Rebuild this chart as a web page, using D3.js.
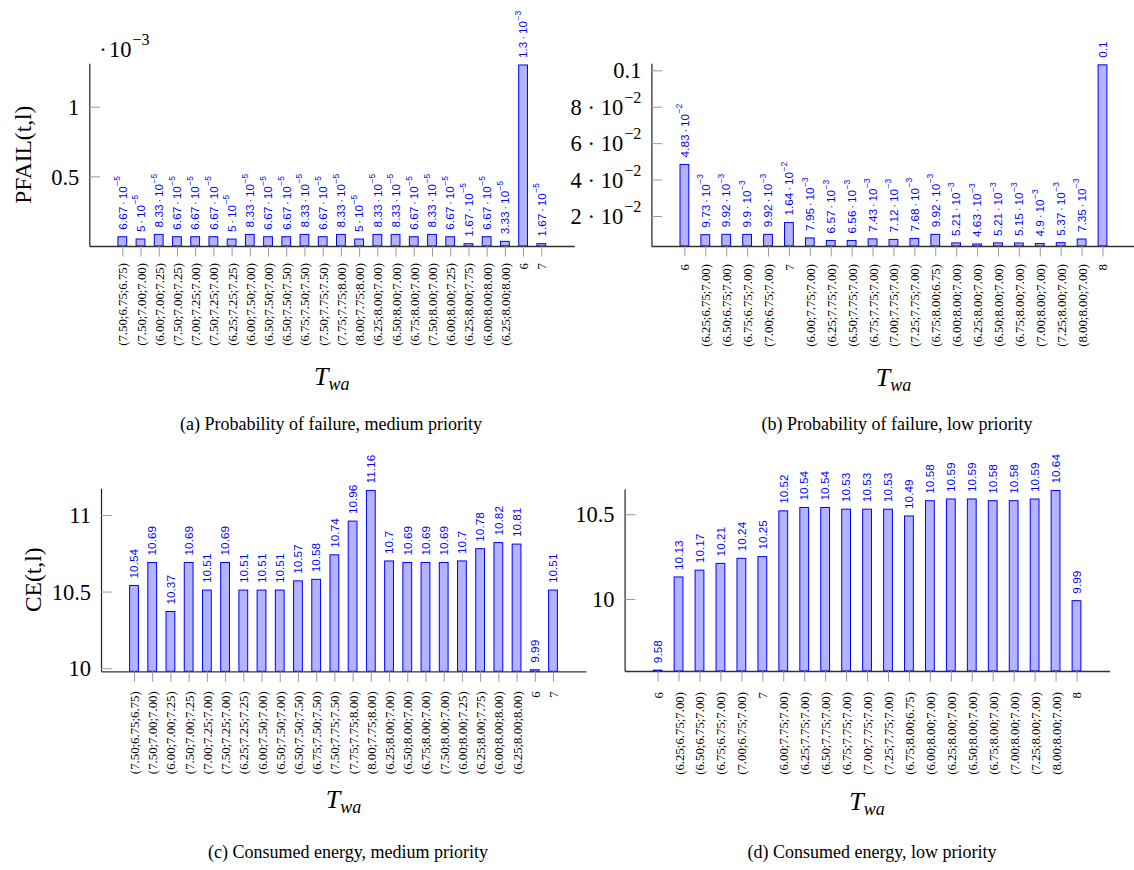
<!DOCTYPE html>
<html>
<head>
<meta charset="utf-8">
<script src="https://cdn.jsdelivr.net/npm/d3@7"></script>
<style>
  body { margin: 0; background: #fff; }
  svg { display: block; }
  svg text { font-family: "Liberation Serif", "Times New Roman", serif; }
  svg text.val { font-family: "Liberation Sans", Arial, sans-serif; }
</style>
</head>
<body>
<svg id="chart" width="1134" height="870"></svg>
<script>
// Categories (T_wa settings)
const medCats = [
  '(7.50;6.75;6.75)', '(7.50;7.00;7.00)', '(6.00;7.00;7.25)', '(7.50;7.00;7.25)',
  '(7.00;7.25;7.00)', '(7.50;7.25;7.00)', '(6.25;7.25;7.25)', '(6.00;7.50;7.00)',
  '(6.50;7.50;7.00)', '(6.50;7.50;7.50)', '(6.75;7.50;7.50)', '(7.50;7.75;7.50)',
  '(7.75;7.75;8.00)', '(8.00;7.75;8.00)', '(6.25;8.00;7.00)', '(6.50;8.00;7.00)',
  '(6.75;8.00;7.00)', '(7.50;8.00;7.00)', '(6.00;8.00;7.25)', '(6.25;8.00;7.75)',
  '(6.00;8.00;8.00)', '(6.25;8.00;8.00)', '6', '7'
];
const lowCats = [
  '6', '(6.25;6.75;7.00)', '(6.50;6.75;7.00)', '(6.75;6.75;7.00)', '(7.00;6.75;7.00)', '7',
  '(6.00;7.75;7.00)', '(6.25;7.75;7.00)', '(6.50;7.75;7.00)', '(6.75;7.75;7.00)',
  '(7.00;7.75;7.00)', '(7.25;7.75;7.00)', '(6.75;8.00;6.75)', '(6.00;8.00;7.00)',
  '(6.25;8.00;7.00)', '(6.50;8.00;7.00)', '(6.75;8.00;7.00)', '(7.00;8.00;7.00)',
  '(7.25;8.00;7.00)', '(8.00;8.00;7.00)', '8'
];

// Series values
const pfailMed = [
  6.67e-5, 5e-5, 8.33e-5, 6.67e-5, 6.67e-5, 6.67e-5, 5e-5, 8.33e-5, 6.67e-5, 6.67e-5,
  8.33e-5, 6.67e-5, 8.33e-5, 5e-5, 8.33e-5, 8.33e-5, 6.67e-5, 8.33e-5, 6.67e-5, 1.67e-5,
  6.67e-5, 3.33e-5, 1.3e-3, 1.67e-5
];
const pfailLow = [
  4.83e-2, 9.73e-3, 9.92e-3, 9.9e-3, 9.92e-3, 1.64e-2, 7.95e-3, 6.57e-3, 6.56e-3, 7.43e-3,
  7.12e-3, 7.68e-3, 9.92e-3, 5.21e-3, 4.63e-3, 5.21e-3, 5.15e-3, 4.9e-3, 5.37e-3, 7.35e-3, 0.103
];
const ceMed = [
  10.54, 10.69, 10.37, 10.69, 10.51, 10.69, 10.51, 10.51, 10.51, 10.57, 10.58, 10.74,
  10.96, 11.16, 10.7, 10.69, 10.69, 10.69, 10.7, 10.78, 10.82, 10.81, 9.99, 10.51
];
const ceLow = [
  9.58, 10.13, 10.17, 10.21, 10.24, 10.25, 10.52, 10.54, 10.54, 10.53, 10.53, 10.53,
  10.49, 10.58, 10.59, 10.59, 10.58, 10.58, 10.59, 10.64, 9.99
];

// Tick values
const pfailMedTicks = [0.5e-3, 1e-3];
const pfailLowTicks = [0.02, 0.04, 0.06, 0.08, 0.1];
const ceMedTicks = [10, 10.5, 11];
const ceLowTicks = [10, 10.5];

const captions = [
  '(a) Probability of failure, medium priority',
  '(b) Probability of failure, low priority',
  '(c) Consumed energy, medium priority',
  '(d) Consumed energy, low priority'
];

const panels = [
  { cats: medCats, values: pfailMed, ticks: pfailMedTicks, tickUnit: 1e-3, ylabel: 'PFAIL(t,l)',
    left: 89.3, right: 574.3, top: 63.3, bottom: 246, domain: [0, 1.312e-3],
    ylabelX: 23, capX: 331, capY: 430, twaY: 385, gap: 17 },
  { cats: lowCats, values: pfailLow, ticks: pfailLowTicks, tickUnit: 1,
    left: 651.4, right: 1135.5, top: 63.3, bottom: 246, domain: [0.00352, 0.10385],
    capX: 897, capY: 430, twaY: 386, gap: 18 },
  { cats: medCats, values: ceMed, ticks: ceMedTicks, tickUnit: 1, ylabel: 'CE(t,l)',
    left: 101, right: 586, top: 488.3, bottom: 671.3, domain: [9.98, 11.174],
    ylabelX: 33, capX: 348, capY: 858, twaY: 808, gap: 20 },
  { cats: lowCats, values: ceLow, ticks: ceLowTicks, tickUnit: 1,
    left: 624.6, right: 1109.5, top: 489, bottom: 671, domain: [9.575, 10.649],
    capX: 872, capY: 858, twaY: 810, gap: 21 }
];

const blue = '#0000ff';
const barFill = '#b3b3ff';
const tickColor = '#9a9a9a';

// number -> {text, exp} in pgfplots style (m·10^e below 0.1)
function numParts(v) {
  if (Math.abs(v) >= 0.1) return { text: String(+v.toFixed(2)) };
  let e = Math.floor(Math.log10(v));
  let m = +(v / Math.pow(10, e)).toFixed(2);
  if (m >= 10) { m = +(m / 10).toFixed(2); e += 1; }
  return { text: String(m), exp: e };
}

function writeNum(sel, parts, gap = '0.2em') {
  sel.text(null);
  if (parts.text !== '') sel.append('tspan').text(parts.text);
  if (parts.exp === undefined) return;
  sel.append('tspan').attr('dx', parts.text === '' ? 0 : gap).text('\u00b7');
  sel.append('tspan').attr('dx', gap).text('10');
  sel.append('tspan').attr('dx', '0.05em').attr('dy', '-0.75em').attr('font-size', '0.72em')
    .text(String(parts.exp).replace('-', '\u2212'));
}

const svg = d3.select('#chart');
svg.append('rect').attr('width', 1134).attr('height', 870).attr('fill', '#fff');

panels.forEach((p, pi) => {
  const g = svg.append('g');
  const n = p.cats.length;
  const width = p.right - p.left;
  const step = (width - 66) / (n - 1);

  const x = d3.scalePoint()
    .domain(p.cats)
    .range([p.left, p.right])
    .padding(33 / step);

  const y = d3.scaleLinear()
    .domain(p.domain)
    .range([p.bottom, p.top]);

  const barW = 8.8;

  // Bars (clipped at the axis minimum like pgfplots)
  g.selectAll('rect.bar')
    .data(p.values)
    .enter()
    .append('rect')
    .attr('class', 'bar')
    .attr('x', (d, i) => x(p.cats[i]) - barW / 2)
    .attr('y', d => y(d))
    .attr('width', barW)
    .attr('height', d => Math.max(0, y(p.domain[0]) - y(d)))
    .attr('fill', barFill)
    .attr('stroke', blue)
    .attr('stroke-width', 1);

  // Value labels above bars
  g.selectAll('text.val')
    .data(p.values)
    .enter()
    .append('text')
    .attr('class', 'val')
    .attr('transform', (d, i) => `translate(${x(p.cats[i])},${y(d) - 7}) rotate(-90)`)
    .attr('dy', '0.36em')
    .attr('fill', blue)
    .attr('font-size', '11.8px')
    .each(function (d) { writeNum(d3.select(this), numParts(d), '0.15em'); });

  // X axis
  const xAxis = g.append('g')
    .attr('transform', `translate(0,${p.bottom})`)
    .call(d3.axisBottom(x).tickSizeInner(10.5).tickSizeOuter(0))
    .attr('font-family', null)
    .attr('font-size', null);
  xAxis.select('.domain').attr('stroke', '#333').attr('stroke-width', 1.3);
  xAxis.selectAll('.tick line').attr('stroke', tickColor);
  xAxis.selectAll('.tick text')
    .attr('y', 0)
    .attr('x', -p.gap)
    .attr('dy', '0.35em')
    .attr('transform', 'rotate(-90)')
    .attr('text-anchor', 'end')
    .attr('font-size', '12.8px')
    .attr('fill', '#000');

  // Y axis
  const yAxis = g.append('g')
    .attr('transform', `translate(${p.left},0)`)
    .call(d3.axisLeft(y).tickValues(p.ticks).tickSizeInner(-10.7).tickSizeOuter(0))
    .attr('font-family', null)
    .attr('font-size', null);
  yAxis.select('.domain').attr('stroke', '#222').attr('stroke-width', 1.2);
  yAxis.selectAll('.tick line').attr('stroke', tickColor);
  yAxis.selectAll('.tick text')
    .attr('x', -10)
    .attr('dy', '0.34em')
    .attr('font-size', '22.5px')
    .attr('fill', '#000')
    .each(function (d) { writeNum(d3.select(this), numParts(d / p.tickUnit), '0.26em'); });

  // Scale factor label for the 10^-3 axis
  if (p.tickUnit !== 1) {
    const s = g.append('text')
      .attr('x', p.left + 10)
      .attr('y', 57)
      .attr('font-size', '22.5px');
    writeNum(s, { text: '', exp: Math.round(Math.log10(p.tickUnit)) }, '0.1em');
  }

  // Y axis label
  if (p.ylabel) {
    g.append('text')
      .attr('transform', `translate(${p.ylabelX},${(p.top + p.bottom) / 2}) rotate(-90)`)
      .attr('dy', '0.35em')
      .attr('text-anchor', 'middle')
      .attr('font-size', '23.5px')
      .text(p.ylabel);
  }

  // X axis label T_wa
  const t = g.append('text')
    .attr('x', (p.left + p.right) / 2)
    .attr('y', p.twaY)
    .attr('text-anchor', 'middle')
    .attr('font-style', 'italic');
  t.append('tspan').attr('font-size', '26px').text('T');
  t.append('tspan').attr('dy', '0.3em').attr('font-size', '18px').text('wa');

  // Caption
  g.append('text')
    .attr('x', p.capX)
    .attr('y', p.capY)
    .attr('text-anchor', 'middle')
    .attr('font-size', '18px')
    .text(captions[pi]);
});
</script>
</body>
</html>
